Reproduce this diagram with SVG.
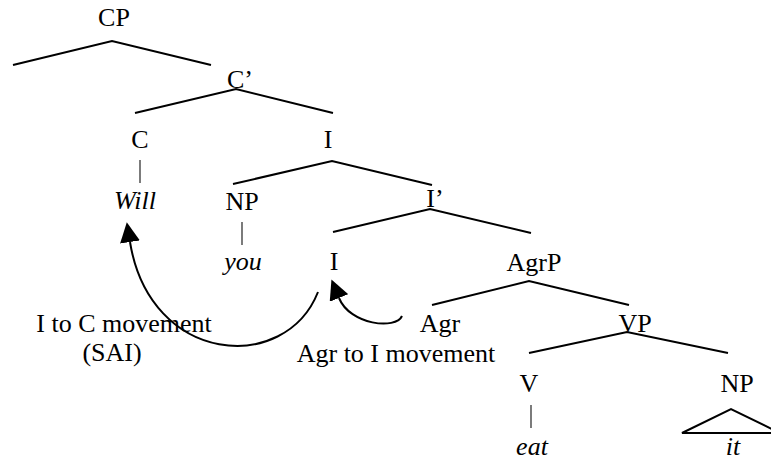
<svg xmlns="http://www.w3.org/2000/svg" width="771" height="460" viewBox="0 0 771 460">
<defs>
<marker id="ah" viewBox="0 -10 20 20" refX="0" refY="0" markerWidth="20" markerHeight="20" markerUnits="userSpaceOnUse" orient="auto">
<path d="M0,-10 L20,0 L0,10 z" fill="#000"/>
</marker>
</defs>
<rect width="771" height="460" fill="#fff"/>
<g id="connectors" fill="none" stroke="#000" stroke-width="2">
<polyline points="13,65 112,41 211,65"/>
<polyline points="135,113 236,89 333,113"/>
<polyline points="233,184 332,161 432,185"/>
<polyline points="333,232 430,209 531,233"/>
<polyline points="432,305 529,281 629,305"/>
<polyline points="529,353 627,332 728,353"/>
<g stroke="#444" stroke-width="1.4">
<line x1="140" y1="160" x2="140" y2="183"/>
<line x1="242" y1="222" x2="242" y2="245"/>
<line x1="531" y1="405" x2="531" y2="428"/>
</g>
<polygon points="682,433 731,409 780,433"/>
<path d="M318,292 C285,375 150,365 130,242" marker-end="url(#ah)"/>
<path d="M402,316 C396,330 350,325 339,298" marker-end="url(#ah)"/>
</g>
<g font-family="Liberation Serif" font-size="26" text-anchor="middle" fill="#000">
<g id="n-CP"><text x="114" y="26">CP</text></g>
<g id="n-Cbar"><text x="240" y="88">C’</text></g>
<g id="n-C"><text x="140" y="148">C</text></g>
<g id="n-IP"><text x="328" y="148">I</text></g>
<g id="n-Will"><text font-style="italic" x="135" y="209">Will</text></g>
<g id="n-NP1"><text x="242" y="210">NP</text></g>
<g id="n-Ibar"><text x="435" y="207">I’</text></g>
<g id="n-you"><text font-style="italic" x="243" y="270">you</text></g>
<g id="n-I"><text x="334" y="270">I</text></g>
<g id="n-AgrP"><text x="534" y="271">AgrP</text></g>
<g id="n-Agr"><text x="440" y="332">Agr</text></g>
<g id="n-VP"><text x="635" y="332">VP</text></g>
<g id="n-V"><text x="529" y="392">V</text></g>
<g id="n-NP2"><text x="737" y="392">NP</text></g>
<g id="n-eat"><text font-style="italic" x="532" y="455">eat</text></g>
<g id="n-it"><text font-style="italic" x="733" y="455">it</text></g>
<g id="lbl-ItoC"><text x="124" y="332">I to C movement</text><text x="112" y="361">(SAI)</text></g>
<g id="lbl-AgrtoI"><text x="396" y="362">Agr to I movement</text></g>
</g>
</svg>
